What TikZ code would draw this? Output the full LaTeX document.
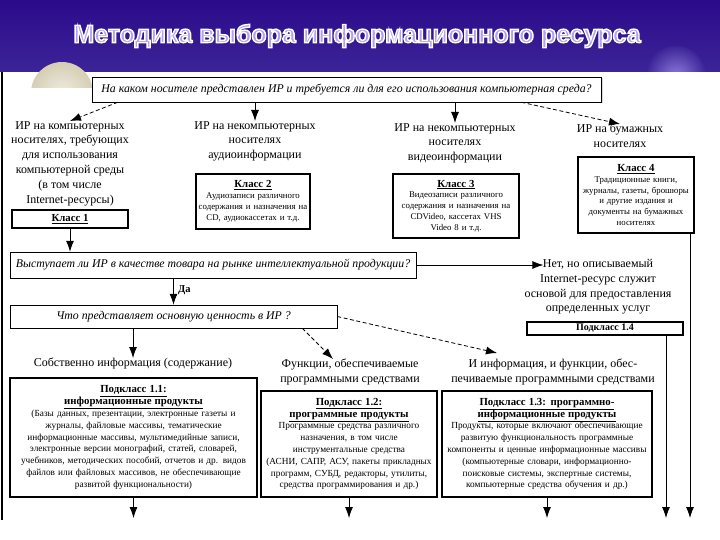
\documentclass[tikz,border=0pt]{standalone}
\usepackage{fontspec}
\setmainfont{Liberation Serif}
\newfontfamily\titlefont{Liberation Sans}
\usetikzlibrary{arrows.meta,shadows}

\definecolor{headtop}{RGB}{44,10,138}
\definecolor{headbot}{RGB}{60,36,152}
\definecolor{lavender}{RGB}{176,160,244}
\definecolor{moon}{RGB}{214,206,180}

\tikzset{
	question/.style={draw, line width=0.5pt, inner sep=0pt, font=\itshape\fontsize{11.8}{13}\selectfont},
	klass/.style={draw, line width=1.3pt, inner sep=1pt, align=center, font=\fontsize{8.8}{10.8}\selectfont},
	subklass/.style={klass, font=\fontsize{9.3}{11.8}\selectfont},
	label/.style={anchor=north, inner sep=0pt, align=center, font=\fontsize{12}{14.8}\selectfont},
	arr/.style={-{Latex[length=11pt,width=8pt]}, line width=0.8pt},
	darr/.style={arr, dash pattern=on 4pt off 2.5pt}
}
\newcommand{\ktitle}[1]{{\fontsize{10.8}{13.5}\selectfont\bfseries\underline{#1}}}
% outlined title letters
\newcommand{\outlined}[1]{\special{pdf:literal direct 2 Tr 1.4 w 1 1 1 RG}#1\special{pdf:literal direct 0 Tr 0 0 0 RG}}

\begin{document}
\begin{tikzpicture}[x=1pt,y=-1pt]
	\useasboundingbox (0,0) rectangle (720,540);
	% slide background
	\fill[white] (0,0) rectangle (720,540);
	\shade[top color=headtop, bottom color=headbot] (0,0) rectangle (720,72);
	\begin{scope}
		\clip (0,0) rectangle (720,72);
		\shade[inner color=lavender!70!headbot, outer color=headbot] (676,76) circle (30);
	\end{scope}
	\begin{scope}
		\clip (0,55) rectangle (720,88);
		\shade[inner color=moon!40!white, outer color=moon] (62,93) circle (31);
	\end{scope}
	\node[text=lavender] (title) at (357,36) {\titlefont\bfseries\fontsize{25}{30}\selectfont\outlined{Методика выбора информационного ресурса}};
	\draw[line width=1.2pt] (2,72) -- (2,520);

	% questions
	\node[question, drop shadow={shadow xshift=1.5pt, shadow yshift=-1.5pt, fill=gray!60}, fill=white,
		minimum width=509pt, minimum height=25pt] (q1) at (346.5,89.5)
		{На каком носителе представлен ИР и требуется ли для его использования компьютерная среда?};
	\node[question, minimum width=406pt, minimum height=26pt] (q2) at (213,265)
		{Выступает ли ИР в качестве товара на рынке интеллектуальной продукции?};
	\node[question, minimum width=327pt, minimum height=23pt] (q3) at (173.5,316.5)
		{Что представляет основную ценность в ИР ?};

	% kinds of carriers
	\node[label] (c1) at (70,121) {ИР на компьютерных\\носителях, требующих\\для использования\\компьютерной среды\\(в том числе\\Internet-ресурсы)};
	\node[label] (c2) at (255,121) {ИР на некомпьютерных\\носителях\\аудиоинформации};
	\node[label] (c3) at (455,123) {ИР на некомпьютерных\\носителях\\видеоинформации};
	\node[label] (c4) at (620,124) {ИР на бумажных\\носителях};

	\node[klass, minimum width=116pt, minimum height=18pt] (k1) at (70,219) {\ktitle{Класс 1}};
	\node[klass, minimum width=114pt, minimum height=55pt, text width=112pt] (k2) at (253,201.5)
		{\ktitle{Класс 2}\\Аудиозаписи различного\\содержания и назначения на\\CD, аудиокассетах и т.д.};
	\node[klass, minimum width=126pt, minimum height=64pt, text width=124pt] (k3) at (456,206)
		{\ktitle{Класс 3}\\Видеозаписи различного\\содержания и назначения на\\CDVideo, кассетах VHS\\Video 8 и т.д.};
	\node[klass, minimum width=116pt, minimum height=76pt, text width=114pt] (k4) at (636,195)
		{\ktitle{Класс 4}\\Традиционные книги,\\журналы, газеты, брошюры\\и другие издания и\\документы на бумажных\\носителях};

	% market question
	\node[label] (net) at (598,259) {Нет, но описываемый\\Internet-ресурс служит\\основой для предоставления\\определенных услуг};
	\node[klass, minimum width=156pt, minimum height=13pt, inner sep=0pt] (p14) at (605,328.5)
		{\fontsize{10}{11}\selectfont\bfseries Подкласс 1.4};
	\node[anchor=west, inner sep=1pt, font=\bfseries\fontsize{10.5}{12}\selectfont] (da) at (177,290) {Да};

	% main value
	\node[label] (t1) at (133,358) {Собственно информация (содержание)};
	\node[label] (t2) at (350,359) {Функции, обеспечиваемые\\программными средствами};
	\node[label] (t3) at (553,359) {И информация, и функции, обес-\\печиваемые программными средствами};

	\node[subklass, minimum width=247pt, minimum height=119pt, text width=245pt] (p11) at (133.5,437.5)
		{\ktitle{Подкласс 1.1:}\\\ktitle{информационные продукты}\\(Базы данных, презентации, электронные газеты и\\журналы, файловые массивы, тематические\\информационные массивы, мультимедийные записи,\\электронные версии монографий, статей, словарей,\\учебников, методических пособий, отчетов и др. видов\\файлов или файловых массивов, не обеспечивающие\\развитой функциональности)};
	\node[subklass, minimum width=176pt, minimum height=106pt, text width=174pt] (p12) at (349,444)
		{\ktitle{Подкласс 1.2:}\\\ktitle{программные продукты}\\Программные средства различного\\назначения, в том числе\\инструментальные средства\\(АСНИ, САПР, АСУ, пакеты прикладных\\программ, СУБД, редакторы, утилиты,\\средства программирования и др.)};
	\node[subklass, minimum width=210pt, minimum height=106pt, text width=208pt] (p13) at (547,444)
		{\ktitle{Подкласс 1.3: программно-}\\\ktitle{информационные продукты}\\Продукты, которые включают обеспечивающие\\развитую функциональность программные\\компоненты и ценные информационные массивы\\(компьютерные словари, информационно-\\поисковые системы, экспертные системы,\\компьютерные средства обучения и др.)};

	\coordinate (e4) at (666,518);
	\coordinate (e5) at (690,518);

	% connectors
	\draw[darr] ([xshift=26pt]q1.south west) -- (c1.north);
	\draw[arr] (c2.north |- q1.south) -- (c2.north);
	\draw[arr] (c3.north |- q1.south) -- (c3.north);
	\draw[darr] ([xshift=-80pt]q1.south east) -- (c4.north);
	\draw[arr] (k1.south) -- (k1.south |- q2.north);
	\draw[arr] (q3.north |- q2.south) -- (q3.north);
	\draw[arr] (q2.east) -- ([xshift=19pt,yshift=-6pt]net.north west);
	\draw[arr] (p14.south -| e4) -- (e4);
	\draw[arr] (k4.south -| e5) -- (e5);
	\draw[arr] (q3.south -| t1.north) -- (t1.north);
	\draw[darr] ([xshift=-35pt]q3.south east) -- ([xshift=-17pt]t2.north);
	\draw[darr] (q3.east) -- ([xshift=-56pt,yshift=6pt]t3.north);
	\draw[arr] (p11.south) -- (p11.south |- e4);
	\draw[arr] (p12.south) -- (p12.south |- e4);
	\draw[arr] (p13.south) -- (p13.south |- e4);
\end{tikzpicture}
\end{document}
